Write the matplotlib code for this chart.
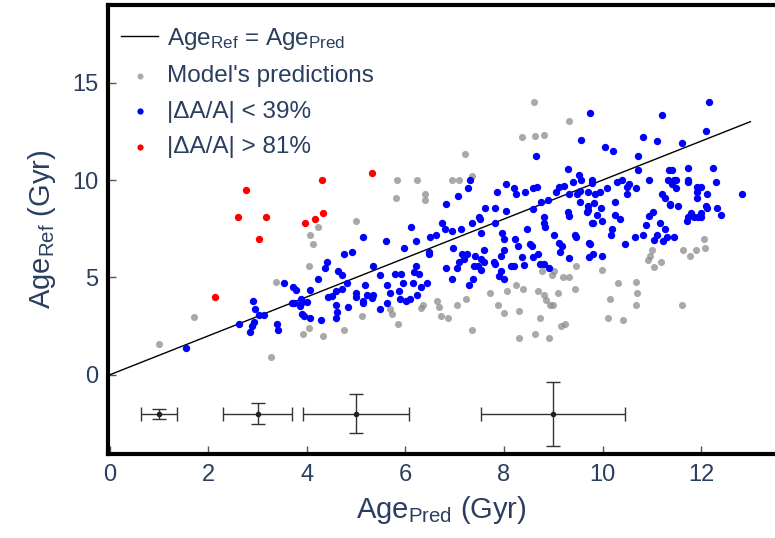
import matplotlib
matplotlib.use('Agg')
import matplotlib.pyplot as plt

plt.rcParams['font.family'] = ['Liberation Sans', 'DejaVu Sans']
plt.rcParams['mathtext.default'] = 'regular'
txt_color = '#2a3f5f'

# gray: all model predictions (only the ones not covered by blue/red are visible)
gray_x = [4.22, 4.06, 4.12, 8.61, 8.36, 8.64, 8.82, 7.21, 5.83, 6.24, 6.94, 7.09, 7.35, 5.81, 6.40, 6.40, 5.0,
          9.32, 12.06, 11.63, 11.89, 12.07, 11.0, 11.78, 10.96,
          4.04, 3.38, 1.72, 1.01, 3.28, 3.92, 4.04, 4.33,
          8.77, 8.97, 8.24, 8.38, 8.06, 7.71, 8.70, 8.82, 8.86, 8.94, 7.22, 7.04, 7.88, 8.0, 8.30, 8.74,
          6.64, 6.68, 6.72, 6.87, 6.36, 6.31, 5.68, 5.72, 5.85, 5.12, 4.75, 7.36, 8.30, 8.62, 8.92,
          10.93, 11.04, 11.18, 11.61, 9.46, 9.01, 9.19, 9.32, 9.45, 9.09, 8.99, 9.99, 10.32, 10.68, 10.69,
          10.68, 10.15, 10.11, 10.42, 9.15, 9.24]
gray_y = [7.59, 7.18, 6.70, 14.0, 12.22, 12.29, 12.32, 11.36, 9.98, 9.98, 9.98, 9.98, 10.2, 9.09, 9.29, 8.98, 7.89,
          13.06, 6.99, 6.39, 6.39, 6.49, 6.39, 6.10, 6.10,
          5.58, 4.78, 2.99, 1.60, 0.94, 2.10, 2.39, 1.99,
          5.31, 5.12, 4.60, 4.40, 4.29, 4.21, 4.29, 4.12, 3.83, 3.61, 3.90, 3.61, 3.61, 3.20, 3.30, 2.90,
          3.81, 3.49, 3.01, 2.90, 3.61, 3.42, 3.40, 3.11, 2.61, 3.01, 2.30, 2.30, 1.91, 2.10, 1.91,
          5.89, 5.55, 5.79, 3.61, 5.60, 5.34, 5.0, 5.0, 4.40, 4.19, 3.61, 5.39, 4.69, 4.79, 4.19,
          3.59, 3.90, 2.90, 2.80, 2.50, 2.59]

# blue: |dA/A| < 39%
blue_x = [8.65, 7.31, 7.27, 8.04, 7.86, 8.21, 8.24, 8.42, 8.59, 8.67, 7.07, 6.82, 7.62, 7.81, 8.04, 8.59, 8.75,
          8.90, 7.49, 7.51, 7.36, 7.82, 6.75, 6.11, 6.80, 6.94, 7.13, 7.53, 7.96, 8.46, 8.82, 8.82, 8.84, 8.01,
          8.22, 6.63, 6.50, 5.15, 5.60, 6.21, 5.98, 6.96, 8.29, 8.52, 8.57, 4.75, 4.91, 6.48, 6.48, 7.15, 7.25,
          7.42, 7.59, 7.94, 8.01, 8.36, 8.58, 8.69,
          12.16, 9.75, 11.21, 12.10, 9.57, 10.83, 11.11, 11.62, 10.05, 10.22, 10.72, 9.30, 10.71, 11.35, 11.40,
          11.74, 12.24, 9.53, 9.57, 9.40, 9.78, 9.79, 10.30, 10.40, 10.49, 10.54, 10.68, 10.95, 11.32, 11.45,
          11.50, 11.42, 11.50, 11.74, 11.74, 11.91, 11.99, 11.92, 12.31, 12.13, 12.83, 9.05, 9.12, 9.21, 9.31,
          9.49, 9.55, 9.70, 9.85, 9.95, 10.09, 10.49, 9.54, 9.82, 9.96, 10.25, 9.70, 9.68, 9.71, 9.89, 9.30,
          9.33, 9.78, 9.80, 9.99, 10.25, 10.36, 11.21, 11.26, 11.36, 11.37, 11.54, 11.03, 10.94, 10.88, 11.16,
          11.27, 11.11, 11.30, 11.46, 11.05, 11.22, 10.83, 10.65, 10.45, 10.19, 10.18, 9.45, 9.46, 9.01, 9.11,
          9.18, 9.13, 9.73, 9.74, 9.80, 9.99, 9.72, 11.73, 11.72, 11.79, 11.85, 11.93, 12.0, 12.0, 12.09,
          12.12, 12.32, 12.41, 11.91,
          4.41, 4.37, 4.22, 3.54, 3.72, 3.79, 4.06, 4.43, 3.69, 3.74, 3.89, 3.89, 4.0, 3.87, 3.91, 3.95, 4.07,
          4.28, 2.90, 2.94, 3.02, 3.14, 2.62, 2.93, 2.89, 2.85, 3.39, 3.41, 1.55,
          5.34, 4.63, 4.71, 4.81, 4.60, 4.72, 4.52, 4.60, 4.62, 4.60, 4.83, 4.99, 5.0, 5.13, 5.13, 5.19, 5.23,
          5.32, 5.35, 5.48, 5.62, 5.69, 5.62, 5.48, 5.79, 5.91, 5.96, 5.87, 5.89, 6.01, 6.09, 6.16, 6.17, 6.21,
          6.27, 6.31, 6.44, 6.24, 6.82, 7.04, 7.09, 7.18, 7.40, 7.47, 7.53, 7.53, 7.60, 6.94, 7.37, 7.29, 7.80,
          7.82, 7.94, 7.90, 8.01, 8.15, 8.20, 8.40, 8.74, 8.82, 8.92, 9.32]
blue_y = [11.25, 10.0, 9.57, 9.78, 9.38, 9.57, 9.28, 9.38, 9.57, 9.62, 9.18, 8.78, 8.59, 8.59, 8.39, 8.49, 8.88,
          8.98, 8.09, 7.99, 7.78, 7.78, 7.78, 7.59, 7.49, 7.39, 7.49, 7.28, 7.28, 7.49, 8.09, 7.78, 7.58, 6.99,
          6.99, 7.18, 7.08, 7.08, 6.89, 6.89, 6.49, 6.49, 6.60, 6.70, 6.60, 6.20, 6.29, 6.29, 6.20, 6.20, 6.20,
          6.10, 6.39, 6.10, 6.39, 6.03, 6.03, 6.20,
          14.0, 13.47, 13.35, 12.53, 12.06, 12.22, 11.99, 11.89, 11.68, 11.48, 11.25, 10.57, 10.5, 10.5, 10.5,
          10.6, 10.6, 10.26, 9.98, 9.88, 9.98, 9.86, 9.88, 10.03, 9.67, 9.78, 9.59, 9.98, 9.98, 10.03,
          10.03, 9.78, 9.57, 10.03, 9.88, 9.67, 9.67, 9.4, 9.88, 9.31, 9.28, 9.41, 9.62, 9.70, 9.28,
          9.28, 9.45, 9.38, 9.28, 9.38, 9.57, 9.28, 8.88, 8.81, 8.59, 8.88, 8.67, 8.38, 8.47, 8.21, 8.38,
          8.18, 7.78, 7.8, 7.89, 8.20, 7.99, 9.31, 9.10, 8.78, 8.71, 8.67, 8.38, 8.18, 7.68, 7.78,
          7.49, 7.18, 7.09, 7.09, 6.91, 6.87, 7.18, 7.08, 6.70, 7.47, 7.18, 7.18, 7.08, 7.16, 6.78,
          6.60, 6.29, 6.78, 6.7, 6.20, 6.10, 6.05, 8.09, 7.89, 8.30, 8.09, 8.09, 8.30, 8.09, 8.67,
          8.59, 8.59, 8.20, 9.07,
          5.79, 5.48, 4.90, 4.69, 4.50, 4.38, 4.38, 4.0, 3.71, 3.71, 3.90, 3.71, 3.75, 3.52, 3.11, 3.01, 2.90,
          2.80, 3.80, 3.40, 3.09, 3.09, 2.59, 2.72, 2.49, 2.20, 2.61, 2.30, 1.39,
          5.6, 5.31, 5.12, 4.71, 4.29, 4.42, 4.04, 3.61, 3.25, 2.90, 3.49, 4.21, 4.0, 3.78, 3.70, 4.60, 4.09,
          3.93, 4.09, 5.12, 4.60, 4.21, 3.71, 3.40, 5.19, 5.19, 4.71, 4.29, 3.90, 3.81, 3.90, 4.71, 5.27, 5.60,
          5.19, 4.50, 4.69, 4.09, 5.50, 5.50, 5.77, 5.93, 5.60, 5.6, 5.39, 5.93, 5.79, 4.90, 4.90, 4.59, 5.79,
          5.67, 5.31, 5.10, 4.90, 5.57, 5.6, 5.62, 5.71, 5.71, 5.50, 5.99]

# red: |dA/A| > 81%
red_x = [2.76, 2.61, 3.18, 3.03, 4.31, 4.33, 4.16, 3.97, 5.33, 2.14]
red_y = [9.50, 8.09, 8.09, 6.99, 9.98, 8.30, 8.01, 7.80, 10.36, 4.0]

# typical uncertainties shown at the bottom
err_x = [1, 3, 5, 9]
err_y = [-2, -2, -2, -2]
err_xe = [0.37, 0.70, 1.08, 1.46]
err_ye = [0.26, 0.55, 1.0, 1.63]

fig = plt.figure(figsize=(7.75, 5.38), dpi=100)
ax = fig.add_axes([0.139, 0.156, 0.861, 0.835])

ax.plot([0, 13], [0, 13], color='k', lw=1, label='Age$_{Ref}$ = Age$_{Pred}$', zorder=3)
ax.scatter(gray_x, gray_y, s=26, color='#8c8c8c', alpha=0.75, linewidths=0,
           label="Model's predictions", zorder=2)
ax.scatter(blue_x, blue_y, s=28, color='blue', linewidths=0, label='|ΔA/A| < 39%', zorder=4)
ax.scatter(red_x, red_y, s=28, color='red', linewidths=0, label='|ΔA/A| > 81%', zorder=4)
ax.errorbar(err_x, err_y, xerr=err_xe, yerr=err_ye, fmt='o', ms=3, color='#222222',
            ecolor='#333333', elinewidth=1, capsize=5, capthick=1, zorder=3)

ax.set_xlim(-0.04, 13.5)
ax.set_ylim(-4.07, 19.0)
ax.set_xticks([0, 2, 4, 6, 8, 10, 12])
ax.set_yticks([0, 5, 10, 15])
ax.tick_params(direction='in', length=6, width=1, color='#555555', labelsize=17,
               labelcolor=txt_color, pad=7)

for side in ['left', 'bottom', 'top']:
    ax.spines[side].set_linewidth(3)
    ax.spines[side].set_color('k')
ax.spines['right'].set_visible(False)

ax.set_xlabel('Age$_{Pred}$ (Gyr)', fontsize=21, color=txt_color, labelpad=6)
ax.set_ylabel('Age$_{Ref}$ (Gyr)', fontsize=21, color=txt_color, labelpad=10)

leg = ax.legend(loc='upper left', bbox_to_anchor=(0.005, 0.975), frameon=False, fontsize=17.5,
                markerscale=0.85, handlelength=1.55, handletextpad=0.35, labelspacing=0.55,
                borderaxespad=0.0)
for t in leg.get_texts():
    t.set_color(txt_color)

plt.savefig('out.png', dpi=100)
